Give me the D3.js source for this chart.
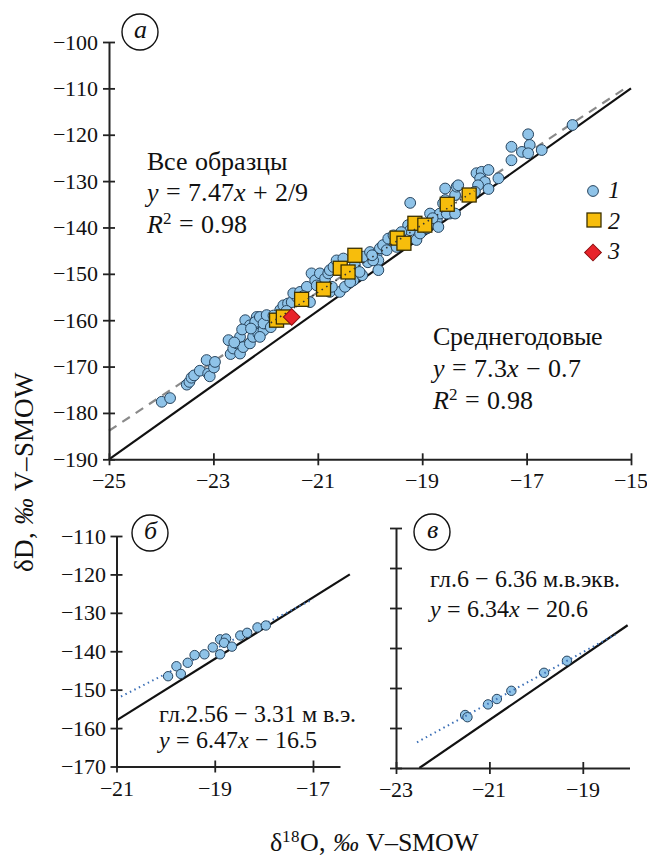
<!DOCTYPE html>
<html lang="ru">
<head>
<meta charset="utf-8">
<script src="https://cdn.jsdelivr.net/npm/d3@7"></script>
<style>
  @font-face { font-family: "ChartSerif"; font-style: normal; font-weight: 400;
    src: local("Liberation Serif"), local("LiberationSerif"), local("Tinos"), local("Times New Roman"); }
  @font-face { font-family: "ChartSerif"; font-style: italic; font-weight: 400;
    src: local("Liberation Serif Italic"), local("LiberationSerif-Italic"), local("Tinos Italic"), local("Times New Roman Italic"); }
  body { margin: 0; }
  svg text { font-family: "ChartSerif", "Liberation Serif", serif !important; }
</style>
</head>
<body>
<svg id="fig" width="647" height="857"></svg>
<script>
// ---- Panel а: all samples (δ18O, δD) ----
const sampleO = [
  -23.99, -23.83, -23.51, -23.46, -23.42, -23.37, -23.26, -23.10, -23.07, -23.13,
  -22.99, -22.97, -22.71, -22.67, -22.62, -22.55, -22.49, -22.49, -22.43, -22.36,
  -22.30, -22.24, -22.20, -22.14, -22.17, -22.04, -22.11, -22.01,
  -22.39, -22.30, -22.20, -22.11, -22.04, -21.98, -21.72, -21.66, -21.57, -21.50,
  -21.40, -21.47, -21.34, -21.21, -21.12, -21.05, -21.02, -20.96, -20.86, -20.80,
  -21.15, -20.77, -20.58, -20.48, -20.73, -20.64, -20.77, -20.32, -20.70,
  -20.29, -20.15, -20.38, -20.04,
  -20.64, -20.51, -20.13, -20.00, -19.87, -19.81, -19.75, -19.68, -19.84, -19.94,
  -19.84, -19.65, -19.55, -19.49, -19.23, -19.27, -19.23, -19.11, -19.04, -18.91,
  -18.85, -18.85, -18.72, -18.66, -18.69, -18.56, -18.56, -18.37, -18.34, -18.47,
  -18.31, -18.53, -18.37, -17.96, -17.86, -17.73, -17.89, -17.80, -17.93, -17.73,
  -17.99, -17.54, -17.29, -17.29, -17.09, -16.97, -16.94, -16.97, -16.71, -16.12,
  -22.60, -22.45, -22.28, -21.90, -21.85, -21.60, -21.28, -20.92, -20.20, -19.96,
  -19.40, -18.80, -18.60
];
const sampleD = [
  -177.6, -176.8, -173.9, -173.3, -172.4, -171.9, -170.9, -171.5, -172.1, -168.6,
  -170.2, -169.0, -164.3, -167.3, -166.1, -165.0, -167.2, -163.6, -165.8, -160.7,
  -165.0, -163.6, -160.7, -162.9, -159.3, -162.2, -163.6, -160.7,
  -160.0, -161.1, -160.4, -159.3, -160.7, -158.9, -157.8, -156.8, -156.4, -156.1,
  -155.0, -154.2, -153.9, -152.8, -149.9, -151.4, -152.5, -149.9, -151.0, -149.9,
  -156.1, -153.9, -153.9, -152.8, -152.8, -148.5, -149.2, -151.4, -148.5,
  -148.1, -150.3, -151.8, -147.5,
  -147.1, -146.7, -146.3, -145.3, -145.6, -144.5, -143.8, -144.9, -147.1, -147.1,
  -149.2, -142.4, -141.7, -144.2, -134.7, -139.5, -140.6, -142.7, -141.3, -140.2,
  -137.0, -139.1, -138.4, -137.0, -139.9, -131.6, -134.1, -133.0, -131.2, -137.0,
  -130.9, -137.0, -137.0, -128.3, -128.0, -127.6, -129.4, -130.2, -130.9, -131.7,
  -132.3, -129.4, -122.6, -125.5, -123.7, -119.9, -122.2, -124.0, -123.3, -117.9,
  -164.8, -162.0, -161.8, -161.5, -159.0, -158.0, -154.8, -153.0, -149.6, -146.0,
  -141.0, -138.0, -134.8
];
// annual means (2)
const annualO = [-21.79, -21.66, -21.31, -20.89, -20.57, -20.42, -20.29, -19.48, -19.35, -19.14, -18.95, -18.52, -18.10];
const annualD = [-160.0, -159.3, -155.5, -153.3, -148.8, -149.6, -146.0, -142.3, -143.4, -139.1, -139.5, -135.0, -133.0];
// separate sample (3)
const markO = [-21.50];
const markD = [-159.3];

// ---- Panel б: core interval 2.56–3.31 m w.e. ----
const coreBO = [-19.95, -19.78, -19.69, -19.55, -19.41, -19.21, -19.04, -18.89, -18.89, -18.77, -18.81, -18.65, -18.48, -18.34, -18.13, -17.96];
const coreBD = [-146.5, -143.9, -145.9, -143.0, -141.0, -140.8, -139.0, -140.8, -136.9, -136.7, -137.8, -138.8, -135.9, -135.2, -133.8, -133.3];

// ---- Panel в: core interval 6–6.36 m w.e. ----
const coreVO = [-21.52, -21.47, -21.03, -20.84, -20.53, -19.83, -19.34];
const coreVD = [-156.75, -157.3, -154.1, -152.75, -150.7, -146.2, -143.2];

// axis ticks
const ticksAX = [-25, -23, -21, -19, -17, -15];
const ticksAY = [-190, -180, -170, -160, -150, -140, -130, -120, -110, -100];
const ticksBX = [-21, -19, -17];
const ticksVX = [-23, -21, -19];
const ticksSmallY = [-170, -160, -150, -140, -130, -120, -110];

// line equations: [slope, intercept, xFrom, xTo]
const gmwl = [8, 10];
const fitAll = [7.47, 2.9, -25, -15.15];
const fitAnnual = [7.3, -0.7, -21.9, -18.0];
const fitB = [6.47, -16.5, -21, -17];
const fitV = [6.34, -20.6, -22.55, -18.3];

const svg = d3.select("#fig");
const FONT = "ChartSerif, Liberation Serif, serif";
const INK = "#111";
const C_FILL = "#8fc3e8", C_STROKE = "#27445e";
const TICK_FS = 22;
const fmt = d3.format("d");

function lineData(f, a, b) { return [[a, f[0] * a + f[1]], [b, f[0] * b + f[1]]]; }

// all text is written after the graphics, in one pass
const textQueue = [];
function label(x, y, parts, fs, opts = {}) {
  textQueue.push(() => {
    const t = svg.append("text").attr("x", x).attr("y", y)
      .attr("font-size", fs).attr("font-family", FONT).attr("fill", INK);
    if (opts.anchor) t.attr("text-anchor", opts.anchor);
    if (opts.transform) t.attr("transform", opts.transform);
    if (opts.italic) t.attr("font-style", "italic");
    if (parts.length === 1 && !parts[0].i && !parts[0].sup) {
      t.text(parts[0].t);
      return;
    }
    parts.forEach(p => {
      const s = t.append("tspan").text(p.t);
      if (p.i) s.attr("font-style", "italic");
      if (p.sup) s.attr("baseline-shift", "super").attr("font-size", p.fs || Math.round(fs * 0.65));
    });
  });
}

function axes(g, x, y, xt, yt, showYLabels) {
  const y0 = y.range()[0], x0 = x.range()[0];
  const gx = g.append("g").attr("transform", `translate(0,${y0})`)
    .call(d3.axisBottom(x).tickValues(xt).tickFormat("").tickSizeOuter(0));
  const gy = g.append("g").attr("transform", `translate(${x0},0)`)
    .call(d3.axisLeft(y).tickValues(yt).tickFormat("").tickSizeOuter(0));
  [gx, gy].forEach(a => {
    a.attr("font-family", null).attr("font-size", null).attr("text-anchor", null);
    a.select(".domain").attr("stroke", "#222").attr("stroke-width", 2);
    a.selectAll(".tick line").attr("stroke", "#222").attr("stroke-width", 1.8);
    a.selectAll(".tick text").remove();
  });
  gx.selectAll(".tick line").attr("y1", -6).attr("y2", 6);
  gy.selectAll(".tick line").attr("x1", -6).attr("x2", 6);
  xt.forEach(v => label(x(v), y0 + 29, [{ t: fmt(v) }], TICK_FS, { anchor: "middle" }));
  if (showYLabels) yt.forEach(v => label(x0 - 11, y(v) + 7.5, [{ t: fmt(v) }], TICK_FS, { anchor: "end" }));
}

function badge(cx, cy, r, letter) {
  svg.append("circle").attr("cx", cx).attr("cy", cy).attr("r", r)
    .attr("fill", "#fff").attr("stroke", INK).attr("stroke-width", 1.4);
  label(cx, cy + 6, [{ t: letter }], 26, { anchor: "middle", italic: true });
}

// ================= Panel а =================
{
  const g = svg.append("g");
  const x = d3.scaleLinear().domain([-25, -15]).range([109, 631]);
  const y = d3.scaleLinear().domain([-190, -100]).range([459.3, 42]);
  const p = d3.line().x(d => x(d[0])).y(d => y(d[1]));

  g.append("path").attr("d", p(lineData(gmwl, -25, -15))).attr("stroke", INK).attr("stroke-width", 2.2).attr("fill", "none");
  g.append("path").attr("d", p(lineData(fitAll, fitAll[2], fitAll[3]))).attr("stroke", "#8a8a8a").attr("stroke-width", 2.2)
    .attr("stroke-dasharray", "9,7").attr("fill", "none");

  g.append("g").selectAll("circle").data(d3.range(sampleO.length)).join("circle")
    .attr("cx", i => x(sampleO[i])).attr("cy", i => y(sampleD[i])).attr("r", 5.4)
    .attr("fill", C_FILL).attr("stroke", C_STROKE).attr("stroke-width", 1);

  const sq = 14;
  g.append("g").selectAll("rect").data(d3.range(annualO.length)).join("rect")
    .attr("x", i => x(annualO[i]) - sq / 2).attr("y", i => y(annualD[i]) - sq / 2)
    .attr("width", sq).attr("height", sq)
    .attr("fill", "#f7bd0c").attr("stroke", "#3b3000").attr("stroke-width", 1.3);

  g.append("path").attr("d", p(lineData(fitAnnual, fitAnnual[2], fitAnnual[3]))).attr("stroke", "#333")
    .attr("stroke-width", 1.6).attr("stroke-dasharray", "1.5,4").attr("fill", "none");

  const dia = d3.symbol().type(d3.symbolSquare).size(140);
  g.append("g").selectAll("path").data(d3.range(markO.length)).join("path")
    .attr("d", dia).attr("transform", i => `translate(${x(markO[i])},${y(markD[i])}) rotate(45)`)
    .attr("fill", "#e8232a").attr("stroke", "#8b1010").attr("stroke-width", 1);

  axes(g, x, y, ticksAX, ticksAY, true);

  // legend
  g.append("circle").attr("cx", 593).attr("cy", 191).attr("r", 5.4).attr("fill", C_FILL).attr("stroke", C_STROKE);
  g.append("rect").attr("x", 594 - 7).attr("y", 220 - 7).attr("width", 14).attr("height", 14)
    .attr("fill", "#f7bd0c").attr("stroke", "#3b3000").attr("stroke-width", 1.3);
  g.append("path").attr("d", dia).attr("transform", "translate(593,252.5) rotate(45)")
    .attr("fill", "#e8232a").attr("stroke", "#8b1010");
  ["1", "2", "3"].forEach((s, k) => label(608, 198 + k * 30.5, [{ t: s }], 24, { italic: true }));

  // annotations
  const fs = 26;
  label(147, 170, [{ t: "Все образцы" }], fs);
  label(147, 201, [{ t: "y", i: 1 }, { t: " = 7.47" }, { t: "x", i: 1 }, { t: " + 2/9" }], fs);
  label(147, 233, [{ t: "R", i: 1 }, { t: "2", sup: 1 }, { t: " = 0.98" }], fs);
  label(433, 345, [{ t: "Среднегодовые" }], fs);
  label(433, 377, [{ t: "y", i: 1 }, { t: " = 7.3" }, { t: "x", i: 1 }, { t: " − 0.7" }], fs);
  label(433, 409, [{ t: "R", i: 1 }, { t: "2", sup: 1 }, { t: " = 0.98" }], fs);

  badge(140, 32, 18, "а");
}

// ================= Panel б =================
{
  const g = svg.append("g");
  const x = d3.scaleLinear().domain([-21, -16.45]).range([116.5, 340]);
  const y = d3.scaleLinear().domain([-170, -110]).range([766.5, 536]);
  const p = d3.line().x(d => x(d[0])).y(d => y(d[1]));

  g.append("path").attr("d", p(lineData(gmwl, -21, -16.25))).attr("stroke", INK).attr("stroke-width", 2.2).attr("fill", "none");
  g.append("path").attr("d", p(lineData(fitB, fitB[2], fitB[3]))).attr("stroke", "#3b6fb6")
    .attr("stroke-width", 2).attr("stroke-dasharray", "1.5,3.5").attr("fill", "none");
  g.append("g").selectAll("circle").data(d3.range(coreBO.length)).join("circle")
    .attr("cx", i => x(coreBO[i])).attr("cy", i => y(coreBD[i])).attr("r", 4.7)
    .attr("fill", C_FILL).attr("stroke", C_STROKE).attr("stroke-width", 1);

  axes(g, x, y, ticksBX, ticksSmallY, true);

  label(159, 722, [{ t: "гл.2.56 − 3.31 м в.э." }], 24);
  label(159, 748, [{ t: "y", i: 1 }, { t: " = 6.47" }, { t: "x", i: 1 }, { t: " − 16.5" }], 24);
  badge(150, 533, 18, "б");
}

// ================= Panel в =================
{
  const g = svg.append("g");
  const x = d3.scaleLinear().domain([-23, -18]).range([396, 629.5]);
  const y = d3.scaleLinear().domain([-170, -110]).range([768, 528]);
  const p = d3.line().x(d => x(d[0])).y(d => y(d[1]));

  g.append("path").attr("d", p(lineData(gmwl, -22.5, -18.04))).attr("stroke", INK).attr("stroke-width", 2.2).attr("fill", "none");
  g.append("g").selectAll("circle").data(d3.range(coreVO.length)).join("circle")
    .attr("cx", i => x(coreVO[i])).attr("cy", i => y(coreVD[i])).attr("r", 4.7)
    .attr("fill", C_FILL).attr("stroke", C_STROKE).attr("stroke-width", 1);
  g.append("path").attr("d", p(lineData(fitV, fitV[2], fitV[3]))).attr("stroke", "#3b6fb6")
    .attr("stroke-width", 2).attr("stroke-dasharray", "1.5,3.5").attr("fill", "none");

  axes(g, x, y, ticksVX, ticksSmallY, false);

  label(430, 587, [{ t: "гл.6 − 6.36 м.в.экв." }], 24);
  label(430, 617, [{ t: "y", i: 1 }, { t: " = 6.34" }, { t: "x", i: 1 }, { t: " − 20.6" }], 24);
  badge(432, 532, 18, "в");
}

// ================= Axis titles =================
label(0, 0, [{ t: "δD, " }, { t: "‰", i: 1 }, { t: " V–SMOW" }], 27,
  { anchor: "middle", transform: "translate(33,472) rotate(-90)" });
label(374, 851, [{ t: "δ" }, { t: "18", sup: 1, fs: 17 }, { t: "O, " }, { t: "‰", i: 1 }, { t: " V–SMOW" }], 26,
  { anchor: "middle" });

textQueue.forEach(f => f());
</script>
</body>
</html>
